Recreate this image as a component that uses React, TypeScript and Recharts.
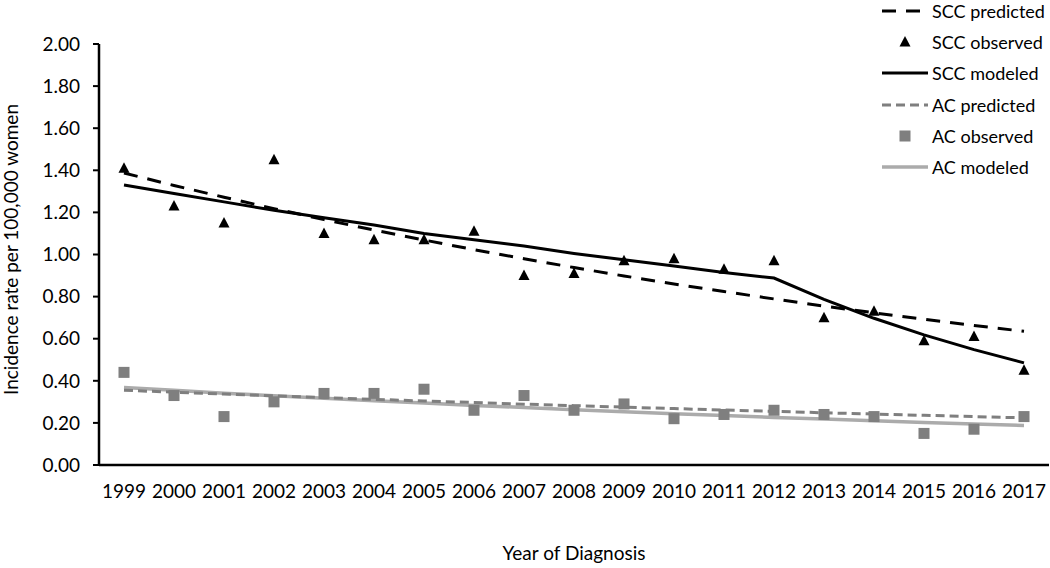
import {
  ComposedChart,
  Label,
  Legend,
  Line,
  Scatter,
  XAxis,
  YAxis,
} from "recharts";

const years = [
  "1999", "2000", "2001", "2002", "2003", "2004", "2005", "2006", "2007", "2008",
  "2009", "2010", "2011", "2012", "2013", "2014", "2015", "2016", "2017",
];

const sccObserved = [
  1.41, 1.23, 1.15, 1.45, 1.1, 1.07, 1.07, 1.11, 0.9, 0.91,
  0.97, 0.98, 0.93, 0.97, 0.7, 0.73, 0.59, 0.61, 0.45,
];
const sccModeled = [
  1.33, 1.29, 1.25, 1.21, 1.175, 1.14, 1.10, 1.07, 1.04, 1.005,
  0.975, 0.945, 0.915, 0.888, 0.787, 0.697, 0.618, 0.548, 0.485,
];
const sccPredicted = [
  1.387, 1.328, 1.272, 1.218, 1.166, 1.116, 1.069, 1.023, 0.98, 0.938,
  0.898, 0.86, 0.824, 0.789, 0.755, 0.723, 0.692, 0.663, 0.635,
];

const acObserved = [
  0.44, 0.33, 0.23, 0.3, 0.34, 0.34, 0.36, 0.26, 0.33, 0.26,
  0.29, 0.22, 0.24, 0.26, 0.24, 0.23, 0.15, 0.17, 0.23,
];
const acModeled = [
  0.368, 0.355, 0.341, 0.329, 0.317, 0.305, 0.294, 0.283, 0.273, 0.263,
  0.253, 0.244, 0.235, 0.226, 0.218, 0.21, 0.202, 0.195, 0.188,
];
const acPredicted = [
  0.355, 0.346, 0.337, 0.329, 0.32, 0.312, 0.304, 0.297, 0.289, 0.282,
  0.275, 0.268, 0.261, 0.255, 0.248, 0.242, 0.236, 0.23, 0.224,
];

const yTicks = [0, 0.2, 0.4, 0.6, 0.8, 1.0, 1.2, 1.4, 1.6, 1.8, 2.0];

const FONT = "Lato, 'Open Sans', sans-serif";
const BLACK = "#000000";
const GRAY = "#7f7f7f";
const LIGHT = "#ababab";

const data = years.map((year, i) => ({
  year,
  sccObserved: sccObserved[i],
  sccModeled: sccModeled[i],
  sccPredicted: sccPredicted[i],
  acObserved: acObserved[i],
  acModeled: acModeled[i],
  acPredicted: acPredicted[i],
}));

type ShapeProps = { cx?: number; cy?: number };

function Triangle({ cx = 0, cy = 0 }: ShapeProps) {
  return (
    <polygon
      points={`${cx},${cy - 6} ${cx + 5.5},${cy + 4.5} ${cx - 5.5},${cy + 4.5}`}
      fill={BLACK}
    />
  );
}

function Square({ cx = 0, cy = 0 }: ShapeProps) {
  return <rect x={cx - 5.5} y={cy - 5.5} width={11} height={11} fill={GRAY} />;
}

const legendItems = [
  { label: "SCC predicted", kind: "line", color: BLACK, dash: "14 10", width: 3 },
  { label: "SCC observed", kind: "triangle", color: BLACK, dash: "", width: 0 },
  { label: "SCC modeled", kind: "line", color: BLACK, dash: "", width: 3 },
  { label: "AC predicted", kind: "line", color: GRAY, dash: "9 5", width: 3 },
  { label: "AC observed", kind: "square", color: GRAY, dash: "", width: 0 },
  { label: "AC modeled", kind: "line", color: LIGHT, dash: "", width: 3.5 },
];

function ChartLegend() {
  return (
    <div style={{ fontFamily: FONT, fontSize: 18, color: "#000" }}>
      {legendItems.map((item) => (
        <div
          key={item.label}
          style={{ display: "flex", alignItems: "center", height: 31.3, whiteSpace: "nowrap" }}
        >
          <svg width={46} height={14} style={{ marginRight: 4, flex: "none" }}>
            {item.kind === "line" && (
              <line
                x1={0}
                y1={7}
                x2={46}
                y2={7}
                stroke={item.color}
                strokeWidth={item.width}
                strokeDasharray={item.dash || undefined}
              />
            )}
            {item.kind === "triangle" && <Triangle cx={23} cy={7} />}
            {item.kind === "square" && <Square cx={23} cy={7} />}
          </svg>
          <span>{item.label}</span>
        </div>
      ))}
    </div>
  );
}

export default function App() {
  return (
    <div style={{ position: "absolute", left: 0, top: 0, background: "#fff" }}>
      <ComposedChart
        width={1050}
        height={568}
        data={data}
        margin={{ top: 44, right: 1, bottom: 0, left: 0 }}
      >
        <XAxis
          dataKey="year"
          padding={{ left: 25, right: 25 }}
          axisLine={{ stroke: BLACK, strokeWidth: 2.5 }}
          tickLine={false}
          tickSize={0}
          tickMargin={20}
          height={103}
          interval={0}
          tick={{ fill: "#000", fontSize: 19, fontFamily: FONT }}
        >
          <Label
            value="Year of Diagnosis"
            position="insideBottom"
            offset={8}
            style={{ fill: "#000", fontSize: 19, fontFamily: FONT }}
          />
        </XAxis>
        <YAxis
          domain={[0, 2]}
          ticks={yTicks}
          width={99}
          axisLine={{ stroke: BLACK, strokeWidth: 2.5 }}
          tickLine={{ stroke: BLACK, strokeWidth: 2 }}
          tickSize={6}
          tickMargin={13}
          tickFormatter={(v: number) => v.toFixed(2)}
          tick={{ fill: "#000", fontSize: 19, fontFamily: FONT }}
        >
          <Label
            content={({ viewBox }: any) => {
              const cy = viewBox.y + viewBox.height / 2 - 5;
              return (
                <text
                  x={0}
                  y={0}
                  transform={`translate(18, ${cy}) rotate(-90)`}
                  textAnchor="middle"
                  fill="#000"
                  fontSize={19}
                  fontFamily={FONT}
                >
                  Incidence rate per 100,000 women
                </text>
              );
            }}
          />
        </YAxis>
        <Legend
          layout="vertical"
          align="center"
          verticalAlign="middle"
          content={<ChartLegend />}
          wrapperStyle={{ left: 882, top: -5, width: 168 }}
        />
        <Line
          dataKey="acModeled"
          stroke={LIGHT}
          strokeWidth={3.5}
          dot={false}
          isAnimationActive={false}
        />
        <Line
          dataKey="acPredicted"
          stroke={GRAY}
          strokeWidth={3}
          strokeDasharray="9 5"
          dot={false}
          isAnimationActive={false}
        />
        <Scatter dataKey="acObserved" shape={<Square />} isAnimationActive={false} />
        <Line
          dataKey="sccModeled"
          stroke={BLACK}
          strokeWidth={3}
          dot={false}
          isAnimationActive={false}
        />
        <Line
          dataKey="sccPredicted"
          stroke={BLACK}
          strokeWidth={3}
          strokeDasharray="14 10"
          dot={false}
          isAnimationActive={false}
        />
        <Scatter dataKey="sccObserved" shape={<Triangle />} isAnimationActive={false} />
      </ComposedChart>
    </div>
  );
}
